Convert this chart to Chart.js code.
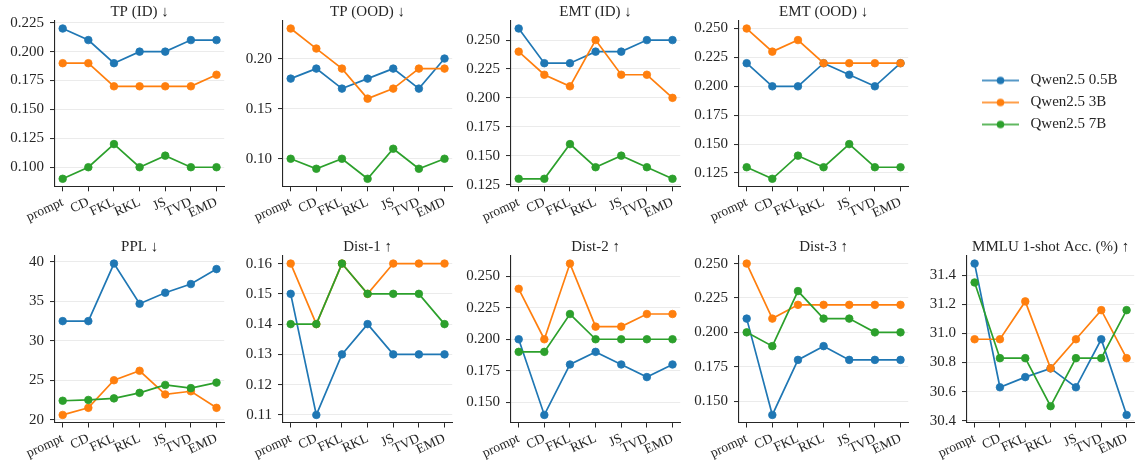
<!DOCTYPE html>
<html>
<head>
<meta charset="utf-8">
<script src="https://cdn.jsdelivr.net/npm/chart.js@4.4.1/dist/chart.umd.min.js"></script>
<style>
  body { margin: 0; background: #fff; width: 1139px; height: 462px; overflow: hidden; position: relative; }
  canvas { position: absolute; }
</style>
</head>
<body>
<script>
// categories and series
const methods = ['prompt', 'CD', 'FKL', 'RKL', 'JS', 'TVD', 'EMD'];
const modelNames = ['Qwen2.5 0.5B', 'Qwen2.5 3B', 'Qwen2.5 7B'];

const tpId05 = [0.22, 0.21, 0.19, 0.20, 0.20, 0.21, 0.21];
const tpId3  = [0.19, 0.19, 0.17, 0.17, 0.17, 0.17, 0.18];
const tpId7  = [0.09, 0.10, 0.12, 0.10, 0.11, 0.10, 0.10];
const tpIdTicks = ['0.100', '0.125', '0.150', '0.175', '0.200', '0.225'];

const tpOod05 = [0.18, 0.19, 0.17, 0.18, 0.19, 0.17, 0.20];
const tpOod3  = [0.23, 0.21, 0.19, 0.16, 0.17, 0.19, 0.19];
const tpOod7  = [0.10, 0.09, 0.10, 0.08, 0.11, 0.09, 0.10];
const tpOodTicks = ['0.10', '0.15', '0.20'];

const emtId05 = [0.26, 0.23, 0.23, 0.24, 0.24, 0.25, 0.25];
const emtId3  = [0.24, 0.22, 0.21, 0.25, 0.22, 0.22, 0.20];
const emtId7  = [0.13, 0.13, 0.16, 0.14, 0.15, 0.14, 0.13];
const emtIdTicks = ['0.125', '0.150', '0.175', '0.200', '0.225', '0.250'];

const emtOod05 = [0.22, 0.20, 0.20, 0.22, 0.21, 0.20, 0.22];
const emtOod3  = [0.25, 0.23, 0.24, 0.22, 0.22, 0.22, 0.22];
const emtOod7  = [0.13, 0.12, 0.14, 0.13, 0.15, 0.13, 0.13];
const emtOodTicks = ['0.125', '0.150', '0.175', '0.200', '0.225', '0.250'];

const ppl05 = [32.5, 32.5, 39.8, 34.7, 36.1, 37.2, 39.1];
const ppl3  = [20.6, 21.5, 25.0, 26.2, 23.2, 23.6, 21.5];
const ppl7  = [22.4, 22.5, 22.7, 23.4, 24.4, 24.0, 24.7];
const pplTicks = ['20', '25', '30', '35', '40'];

const dist1_05 = [0.15, 0.11, 0.13, 0.14, 0.13, 0.13, 0.13];
const dist1_3  = [0.16, 0.14, 0.16, 0.15, 0.16, 0.16, 0.16];
const dist1_7  = [0.14, 0.14, 0.16, 0.15, 0.15, 0.15, 0.14];
const dist1Ticks = ['0.11', '0.12', '0.13', '0.14', '0.15', '0.16'];

const dist2_05 = [0.20, 0.14, 0.18, 0.19, 0.18, 0.17, 0.18];
const dist2_3  = [0.24, 0.20, 0.26, 0.21, 0.21, 0.22, 0.22];
const dist2_7  = [0.19, 0.19, 0.22, 0.20, 0.20, 0.20, 0.20];
const dist2Ticks = ['0.150', '0.175', '0.200', '0.225', '0.250'];

const dist3_05 = [0.21, 0.14, 0.18, 0.19, 0.18, 0.18, 0.18];
const dist3_3  = [0.25, 0.21, 0.22, 0.22, 0.22, 0.22, 0.22];
const dist3_7  = [0.20, 0.19, 0.23, 0.21, 0.21, 0.20, 0.20];
const dist3Ticks = ['0.150', '0.175', '0.200', '0.225', '0.250'];

const mmlu05 = [31.48, 30.63, 30.70, 30.76, 30.63, 30.96, 30.44];
const mmlu3  = [30.96, 30.96, 31.22, 30.76, 30.96, 31.16, 30.83];
const mmlu7  = [31.35, 30.83, 30.83, 30.50, 30.83, 30.83, 31.16];
const mmluTicks = ['30.4', '30.6', '30.8', '31.0', '31.2', '31.4'];

const colors = ['#1f77b4', '#ff7f0e', '#2ca02c'];
const serif = '"Liberation Serif", "Times New Roman", serif';
const ink = '#262626';

const panels = [
  { title: 'TP (ID) ↓', series: [tpId05, tpId3, tpId7], ticks: tpIdTicks, row: 0, col: 0 },
  { title: 'TP (OOD) ↓', series: [tpOod05, tpOod3, tpOod7], ticks: tpOodTicks, row: 0, col: 1 },
  { title: 'EMT (ID) ↓', series: [emtId05, emtId3, emtId7], ticks: emtIdTicks, row: 0, col: 2 },
  { title: 'EMT (OOD) ↓', series: [emtOod05, emtOod3, emtOod7], ticks: emtOodTicks, row: 0, col: 3 },
  { title: 'PPL ↓', series: [ppl05, ppl3, ppl7], ticks: pplTicks, row: 1, col: 0 },
  { title: 'Dist-1 ↑', series: [dist1_05, dist1_3, dist1_7], ticks: dist1Ticks, row: 1, col: 1 },
  { title: 'Dist-2 ↑', series: [dist2_05, dist2_3, dist2_7], ticks: dist2Ticks, row: 1, col: 2 },
  { title: 'Dist-3 ↑', series: [dist3_05, dist3_3, dist3_7], ticks: dist3Ticks, row: 1, col: 3 },
  { title: 'MMLU 1-shot Acc. (%) ↑', series: [mmlu05, mmlu3, mmlu7], ticks: mmluTicks, row: 1, col: 4 }
];

function addCanvas(left, top, w, h) {
  const c = document.createElement('canvas');
  c.width = w; c.height = h;
  c.style.left = left + 'px';
  c.style.top = top + 'px';
  document.body.appendChild(c);
  return c;
}

function makePanel(p) {
  const left = p.col * 228;
  const top = p.row === 0 ? 0 : 231;
  const w = p.col === 4 ? 1139 - left : 229;
  const canvas = addCanvas(left, top, w, 231);

  // matplotlib-like 5% margins
  const all = [].concat(...p.series);
  const lo = Math.min(...all), hi = Math.max(...all);
  const pad = (hi - lo) * 0.05;
  const tickVals = p.ticks.map(Number);

  new Chart(canvas, {
    type: 'line',
    data: {
      datasets: p.series.map((s, k) => ({
        label: modelNames[k],
        data: s.map((v, i) => ({ x: i, y: v })),
        borderColor: colors[k],
        backgroundColor: colors[k],
        pointBackgroundColor: colors[k],
        pointBorderColor: colors[k],
        borderWidth: 1.7,
        pointRadius: 3.8,
        pointBorderWidth: 0.8,
        order: 3 - k,
        clip: false
      }))
    },
    options: {
      responsive: false,
      animation: false,
      events: [],
      layout: { padding: 0 },
      plugins: {
        legend: { display: false },
        tooltip: { enabled: false },
        title: {
          display: true, text: p.title, fullSize: false, color: ink,
          font: { family: serif, size: 15, weight: 'normal' },
          padding: { top: p.row === 0 ? 3 : 7, bottom: 0 }
        }
      },
      scales: {
        x: {
          type: 'linear', min: -0.3, max: 6.3,
          afterBuildTicks: s => { s.ticks = methods.map((m, i) => ({ value: i })); },
          afterFit: s => { s.height = p.row === 0 ? 44.7 : 39.5; },
          grid: { drawOnChartArea: false, drawTicks: true, tickLength: 5, tickColor: ink, tickWidth: 1 },
          border: { display: true, color: ink, width: 1.1 },
          ticks: {
            autoSkip: false, minRotation: 25, maxRotation: 25, padding: 3, color: ink,
            font: { family: serif, size: 13.5 },
            callback: (v, i) => methods[i]
          }
        },
        y: {
          min: lo - pad, max: hi + pad,
          afterBuildTicks: s => { s.ticks = tickVals.map(v => ({ value: v })); },
          afterFit: s => { s.width = 55; },
          grid: { color: '#ebebeb', lineWidth: 1.1, drawTicks: true, tickLength: 5, tickColor: ink, tickWidth: 1 },
          border: { display: true, color: ink, width: 1.1 },
          ticks: {
            padding: 6, color: ink,
            font: { family: serif, size: 15 },
            callback: (v, i) => p.ticks[i]
          }
        }
      }
    }
  });
}

function legendIcon(color) {
  const c = document.createElement('canvas');
  c.width = 37; c.height = 10;
  const g = c.getContext('2d');
  g.strokeStyle = color; g.lineWidth = 1.7;
  g.beginPath(); g.moveTo(0, 5); g.lineTo(37, 5); g.stroke();
  g.fillStyle = color;
  g.beginPath(); g.arc(18.5, 5, 3.8, 0, Math.PI * 2); g.fill();
  return c;
}

function makeLegend() {
  const canvas = addCanvas(971, 66, 168, 200);
  new Chart(canvas, {
    type: 'line',
    data: { datasets: modelNames.map((n, k) => ({ label: n, data: [], borderColor: colors[k] })) },
    options: {
      responsive: false,
      animation: false,
      events: [],
      layout: { padding: 0 },
      scales: { x: { display: false }, y: { display: false } },
      plugins: {
        tooltip: { enabled: false },
        legend: {
          position: 'top', align: 'start',
          labels: {
            usePointStyle: true, pointStyleWidth: 45, padding: 7, color: ink,
            font: { family: serif, size: 15 },
            generateLabels: chart => chart.data.datasets.map((d, k) => ({
              text: d.label, pointStyle: legendIcon(colors[k]),
              fillStyle: colors[k], strokeStyle: colors[k], lineWidth: 0,
              hidden: false, datasetIndex: k, fontColor: ink
            }))
          }
        }
      }
    }
  });
}

panels.forEach(makePanel);
makeLegend();
</script>
</body>
</html>
